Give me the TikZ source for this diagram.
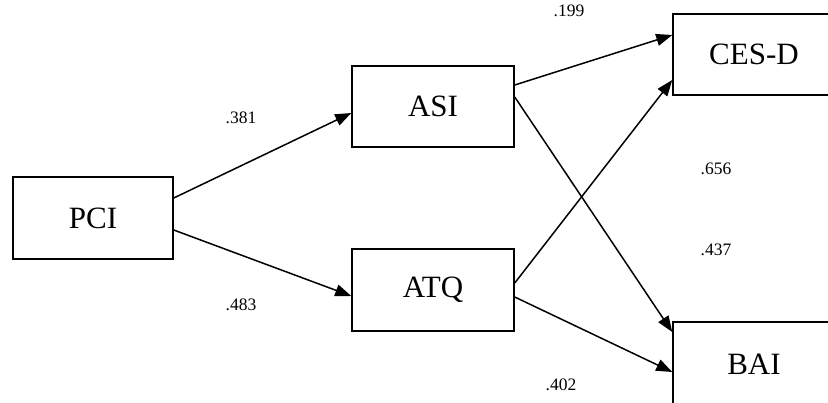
\documentclass[tikz,border=0pt]{standalone}
\usepackage{fontspec}
\setmainfont{Liberation Serif}
\usetikzlibrary{arrows.meta}

\tikzset{
  varbox/.style={draw, line width=1.5pt, inner sep=0pt, minimum width=162pt,
    minimum height=82pt, font=\fontsize{31}{31}\selectfont},
  path/.style={line width=1.5pt, -{Triangle[length=16pt,width=12pt]}},
  coef/.style={inner sep=0pt, font=\fontsize{17.5}{17.5}\selectfont}
}

\begin{document}
\begin{tikzpicture}[x=1pt,y=-1pt] %path model, coordinates in pixels

\useasboundingbox (0,0) rectangle (828,402);

\node [varbox, minimum width=160pt] (pci) at (93,218)  {PCI};
\node [varbox, minimum height=81pt] (asi) at (433,106.5) {ASI};
\node [varbox] (atq) at (433,290) {ATQ};
\node [varbox, minimum height=81pt] (cesd) at (754,54.5) {CES-D};
\node [varbox, minimum height=84pt] (bai) at (754,364) {BAI};


\draw [path] ([yshift=20pt]pci.east) -- ([yshift=-6.5pt]asi.west);
\draw [path] ([yshift=-12pt]pci.east) -- ([yshift=-6pt]atq.west);


\draw [path] ([yshift=21.5pt]asi.east) -- ([yshift=19.5pt]cesd.west);
\draw [path] ([yshift=9.5pt]asi.east) -- ([yshift=32pt]bai.west);
\draw [path] ([yshift=7pt]atq.east) -- ([yshift=-25.5pt]cesd.west);
\draw [path] ([yshift=-7pt]atq.east) -- ([yshift=-8pt]bai.west);


\node [coef] (c1) at (241,118) {.381};
\node [coef] (c2) at (241,305) {.483};
\node [coef] (c3) at (569,11)  {.199};
\node [coef] (c4) at (716,169) {.656};
\node [coef] (c5) at (716,250) {.437};
\node [coef] (c6) at (561,385) {.402};

\end{tikzpicture}
\end{document}
